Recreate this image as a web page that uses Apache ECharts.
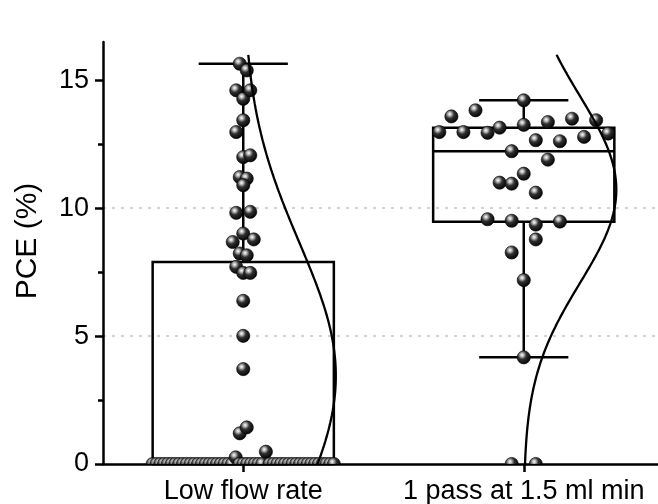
<!DOCTYPE html>
<html>
<head>
<meta charset="utf-8">
<script src="https://cdn.jsdelivr.net/npm/echarts@6/dist/echarts.min.js"></script>
<style>
  html, body { margin: 0; padding: 0; background: #fff; }
  #chart { width: 658px; height: 504px; }
</style>
</head>
<body>
<div id="chart"></div>
<script>
// ---- data ----
const categories = ['Low flow rate', '1 pass at 1.5 ml min'];

// PCE (%) of every device in each group (order within a value band sets the swarm order)
const lowFlowPCE = [
  15.65, 15.39, 14.61, 14.28, 14.61, 13.44, 12.98, 12.0, 12.07, 11.22, 11.16, 10.9,
  9.82, 9.01, 9.86, 8.68, 8.23, 8.16, 8.78, 7.71, 7.47, 7.47, 6.38, 5.01, 3.71, 1.2, 1.43,
  0, 0, 0, 0, 0, 0, 0, 0, 0, 0, 0, 0, 0, 0, 0, 0, 0, 0, 0, 0, 0, 0,
  0.26,
  0, 0, 0, 0, 0, 0, 0,
  0.48,
  0, 0, 0, 0, 0, 0, 0, 0, 0, 0, 0, 0, 0, 0, 0, 0, 0, 0
];
const onePassPCE = [
  14.22,
  13.59, 13.83, 13.15, 13.26, 13.37, 13.5, 13.44,
  12.98, 12.98, 12.95, 12.23, 12.66, 12.62, 12.79, 12.92,
  11.0, 11.35, 11.9,
  10.96, 10.61,
  9.57, 9.51, 9.36, 9.48,
  8.27, 8.78,
  7.19, 4.17, 0, 0
];

// box statistics per group: lower whisker, Q1, median, Q3, upper whisker
const boxLow = [0, 4.17];
const boxQ1 = [0, 9.47];
const boxMedian = [0, 12.23];
const boxQ3 = [7.9, 13.15];
const boxHigh = [15.65, 14.22];

const yTicks = [0, 5, 10, 15];
const yMinorTicks = [2.5, 7.5, 12.5];

// ---- layout constants (x in category units, 1 = distance between groups) ----
const BOX_HALF = 0.323;
const CAP_HALF = 0.159;
const CURVE_AMP = 0.33;
const CURVE_TOP = 16;
const SWARM_STEP = [0.025, 0.086];
const BALL_R = 6.6;
const FONT = '"Liberation Sans", Arial, Helvetica, sans-serif';

// spread points of the same integer band sideways, evenly, within the box width
function swarm(values, center, step) {
  const bins = new Map();
  values.forEach(v => {
    const k = Math.floor(v);
    if (!bins.has(k)) bins.set(k, []);
    bins.get(k).push(v);
  });
  const pts = [];
  bins.forEach(list => {
    const n = list.length;
    const w = Math.min((n - 1) * step, 2 * BOX_HALF);
    list.forEach((v, i) => pts.push([center + (n > 1 ? -w / 2 + i * w / (n - 1) : 0), v]));
  });
  return pts;
}

// normal distribution fitted to a group, drawn sideways from the group centre
function normalCurve(values, center) {
  const n = values.length;
  const mean = values.reduce((a, b) => a + b, 0) / n;
  const sd = Math.sqrt(values.reduce((a, b) => a + (b - mean) * (b - mean), 0) / (n - 1));
  const pts = [];
  const steps = 160;
  for (let i = 0; i <= steps; i++) {
    const y = CURVE_TOP * i / steps;
    pts.push([center + CURVE_AMP * Math.exp(-((y - mean) * (y - mean)) / (2 * sd * sd)), y]);
  }
  return pts;
}

const groups = [lowFlowPCE, onePassPCE];

// glossy black sphere
const ballFill = new echarts.graphic.RadialGradient(0.38, 0.33, 0.7, [
  { offset: 0, color: '#ffffff' },
  { offset: 0.17, color: '#bdbdbd' },
  { offset: 0.45, color: '#303030' },
  { offset: 1, color: '#000000' }
]);

function renderBall(params, api) {
  const p = api.coord([api.value(0), api.value(1)]);
  return {
    type: 'circle',
    shape: { cx: p[0], cy: p[1], r: BALL_R },
    style: { fill: ballFill, stroke: '#000', lineWidth: 0.6 }
  };
}

const boxData = categories.map((_, i) => [i, boxLow[i], boxQ1[i], boxMedian[i], boxQ3[i], boxHigh[i]]);

function renderBox(params, api) {
  const c = api.value(0);
  const lo = api.value(1), q1 = api.value(2), med = api.value(3), q3 = api.value(4), hi = api.value(5);
  const half = api.size([BOX_HALF, 0])[0];
  const cap = api.size([CAP_HALF, 0])[0];
  const pLo = api.coord([c, lo]);
  const pQ1 = api.coord([c, q1]);
  const pMed = api.coord([c, med]);
  const pQ3 = api.coord([c, q3]);
  const pHi = api.coord([c, hi]);
  const x = pQ1[0];
  const stroke = { stroke: '#000', lineWidth: 2.5, fill: null };
  return {
    type: 'group',
    children: [
      { type: 'rect', shape: { x: x - half, y: pQ3[1], width: 2 * half, height: pQ1[1] - pQ3[1] }, style: stroke },
      { type: 'line', shape: { x1: x - half, y1: pMed[1], x2: x + half, y2: pMed[1] }, style: stroke },
      { type: 'line', shape: { x1: x, y1: pQ3[1], x2: x, y2: pHi[1] }, style: stroke },
      { type: 'line', shape: { x1: x, y1: pQ1[1], x2: x, y2: pLo[1] }, style: stroke },
      { type: 'line', shape: { x1: x - cap, y1: pHi[1], x2: x + cap, y2: pHi[1] }, style: stroke },
      { type: 'line', shape: { x1: x - cap, y1: pLo[1], x2: x + cap, y2: pLo[1] }, style: stroke }
    ]
  };
}

const series = [
  {
    type: 'custom',
    xAxisIndex: 1,
    yAxisIndex: 0,
    data: boxData,
    encode: { x: 0, y: [1, 2, 3, 4, 5] },
    renderItem: renderBox,
    clip: false,
    z: 2,
    silent: true
  }
];

groups.forEach((vals, i) => {
  series.push({
    type: 'custom',
    xAxisIndex: 1,
    yAxisIndex: 0,
    data: swarm(vals, i, SWARM_STEP[i]),
    encode: { x: 0, y: 1 },
    renderItem: renderBall,
    clip: true,
    z: 3,
    silent: true
  });
});

groups.forEach((vals, i) => {
  series.push({
    type: 'line',
    xAxisIndex: 1,
    yAxisIndex: 0,
    data: normalCurve(vals, i),
    showSymbol: false,
    symbol: 'none',
    lineStyle: { color: '#000', width: 2.3 },
    z: 4,
    silent: true
  });
});

const chart = echarts.init(document.getElementById('chart'), null, { renderer: 'canvas' });
chart.setOption({
  animation: false,
  backgroundColor: '#fff',
  grid: { left: 103, width: 561, top: 42, height: 422, containLabel: false, outerBoundsMode: 'none' },
  xAxis: [
    {
      type: 'category',
      data: categories,
      position: 'bottom',
      boundaryGap: true,
      axisLine: { show: true, onZero: false, lineStyle: { color: '#000', width: 2.5 } },
      axisTick: { show: true, alignWithLabel: true, length: 8, lineStyle: { color: '#000', width: 2.5 } },
      axisLabel: { color: '#000', fontSize: 27, fontFamily: FONT, margin: 14, interval: 0, hideOverlap: false },
      splitLine: { show: false }
    },
    {
      type: 'value',
      position: 'bottom',
      min: -0.5,
      max: 1.5,
      show: false
    }
  ],
  yAxis: [
    {
      type: 'value',
      position: 'left',
      min: 0,
      max: 16.5,
      interval: 5,
      axisLine: { show: true, onZero: false, lineStyle: { color: '#000', width: 2.5 } },
      axisTick: { show: true, length: 8, customValues: yTicks, lineStyle: { color: '#000', width: 2.5 } },
      axisLabel: { color: '#000', fontSize: 27, fontFamily: FONT, margin: 14, customValues: yTicks },
      splitLine: {
        show: true, showMinLine: false, showMaxLine: false,
        lineStyle: { color: '#c4c4c4', width: 1.5, type: [3, 6] }
      }
    },
    {
      type: 'value',
      position: 'left',
      min: 0,
      max: 16.5,
      axisLine: { show: false, onZero: false },
      axisTick: { show: true, length: 5, customValues: yMinorTicks, lineStyle: { color: '#000', width: 2.5 } },
      axisLabel: { show: false },
      splitLine: { show: false }
    }
  ],
  graphic: [
    {
      type: 'text',
      x: 28,
      y: 241,
      rotation: Math.PI / 2,
      style: {
        text: 'PCE (%)',
        fontSize: 30,
        fontFamily: FONT,
        fill: '#000',
        align: 'center',
        verticalAlign: 'middle'
      }
    }
  ],
  series: series
});
</script>
</body>
</html>
